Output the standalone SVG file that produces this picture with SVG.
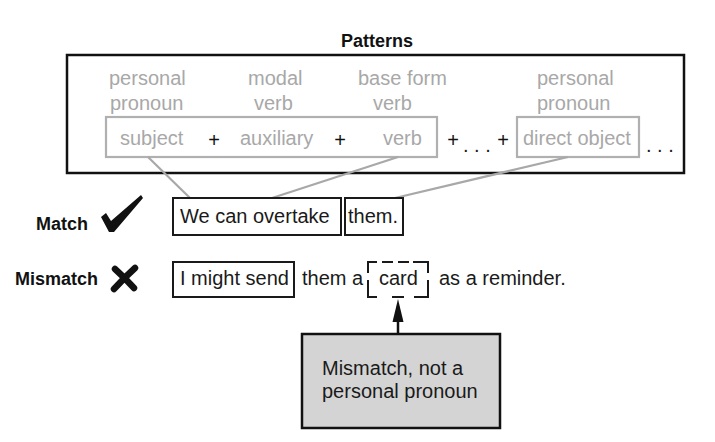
<svg xmlns="http://www.w3.org/2000/svg" width="715" height="442" viewBox="0 0 715 442">
<style>
text{font-family:"Liberation Sans",Arial,sans-serif;}
.lbl{font-size:20px;fill:#a8a8a8;}
.blk{font-size:20px;fill:#1a1a1a;}
.op{font-size:20px;fill:#111;text-anchor:middle;}
.bold{font-size:18px;font-weight:bold;fill:#111;}
.gbox{fill:none;stroke:#b0b0b0;stroke-width:2.2;}
.kbox{fill:none;stroke:#1a1a1a;stroke-width:2;}
.conn{stroke:#a8a8a8;stroke-width:2.2;fill:none;}
</style>
<g id="patterns">
<text class="bold" x="377" y="47" text-anchor="middle">Patterns</text>
<rect x="67" y="55" width="617" height="118" fill="none" stroke="#111" stroke-width="2.5"/>
<text class="lbl" x="109" y="85">personal</text>
<text class="lbl" x="110" y="110">pronoun</text>
<text class="lbl" x="248" y="85">modal</text>
<text class="lbl" x="254" y="110">verb</text>
<text class="lbl" x="358" y="85">base form</text>
<text class="lbl" x="373" y="110">verb</text>
<text class="lbl" x="537" y="85">personal</text>
<text class="lbl" x="537" y="110">pronoun</text>
</g>
<g id="pattern-seq">
<rect class="gbox" x="106" y="117" width="331" height="40"/>
<text class="lbl" x="120" y="145">subject</text>
<text class="op" x="214" y="147">+</text>
<text class="lbl" x="240" y="145">auxiliary</text>
<text class="op" x="340" y="147">+</text>
<text class="lbl" x="383" y="145">verb</text>
</g>
<g id="pattern-rest">
<text class="op" x="453" y="147">+</text>
<text class="blk" x="463" y="152" font-size="18">. . .</text>
<text class="op" x="503" y="147">+</text>
<rect class="gbox" x="517" y="117" width="122" height="40"/>
<text class="lbl" x="523" y="145">direct object</text>
<text class="blk" x="646" y="152" font-size="18">. . .</text>
</g>
<g id="connectors">
<line class="conn" x1="148" y1="157" x2="190" y2="198"/>
<line class="conn" x1="398" y1="157" x2="272" y2="198"/>
<line class="conn" x1="568" y1="157" x2="395" y2="198"/>
<line x1="398" y1="334" x2="398" y2="318" stroke="#111" stroke-width="2.5"/>
<path d="M398,299 L392.5,322 L403.5,322 Z" fill="#111"/>
</g>
<g id="match">
<text class="bold" x="36" y="230">Match</text>
<path d="M101,217 L106,213 L111,221 L141,195 L143,198 L114,232 L109,232 Z" fill="#111"/>
<rect class="kbox" x="173" y="198" width="168" height="37"/>
<text class="blk" x="180" y="223">We can overtake</text>
<rect class="kbox" x="345" y="198" width="58" height="37"/>
<text class="blk" x="348" y="223">them.</text>
</g>
<g id="mismatch">
<text class="bold" x="15" y="285">Mismatch</text>
<path d="M115,269 Q124,277 134,288 M135,268 Q125,277 114,289" stroke="#111" stroke-width="6.5" stroke-linecap="round" fill="none"/>
<rect class="kbox" x="173" y="262" width="121" height="35"/>
<text class="blk" x="180" y="285">I might send</text>
<text class="blk" x="302" y="285">them a</text>
<g fill="none" stroke="#1a1a1a" stroke-width="2">
<path d="M368,273 V262 H377 M382,262 H393 M398,262 H409 M413,262 H428 V273"/>
<path d="M368,280 V297 H377 M392,297 H404 M414,297 H428 V280"/>
</g>
<text class="blk" x="379" y="285">card</text>
<text class="blk" x="439" y="285">as a reminder.</text>
</g>
<g id="note">
<rect x="302" y="334" width="198" height="94" fill="#d4d4d4" stroke="#111" stroke-width="2.5"/>
<text class="blk" x="322" y="375">Mismatch, not a</text>
<text class="blk" x="322" y="398">personal pronoun</text>
</g>
</svg>
